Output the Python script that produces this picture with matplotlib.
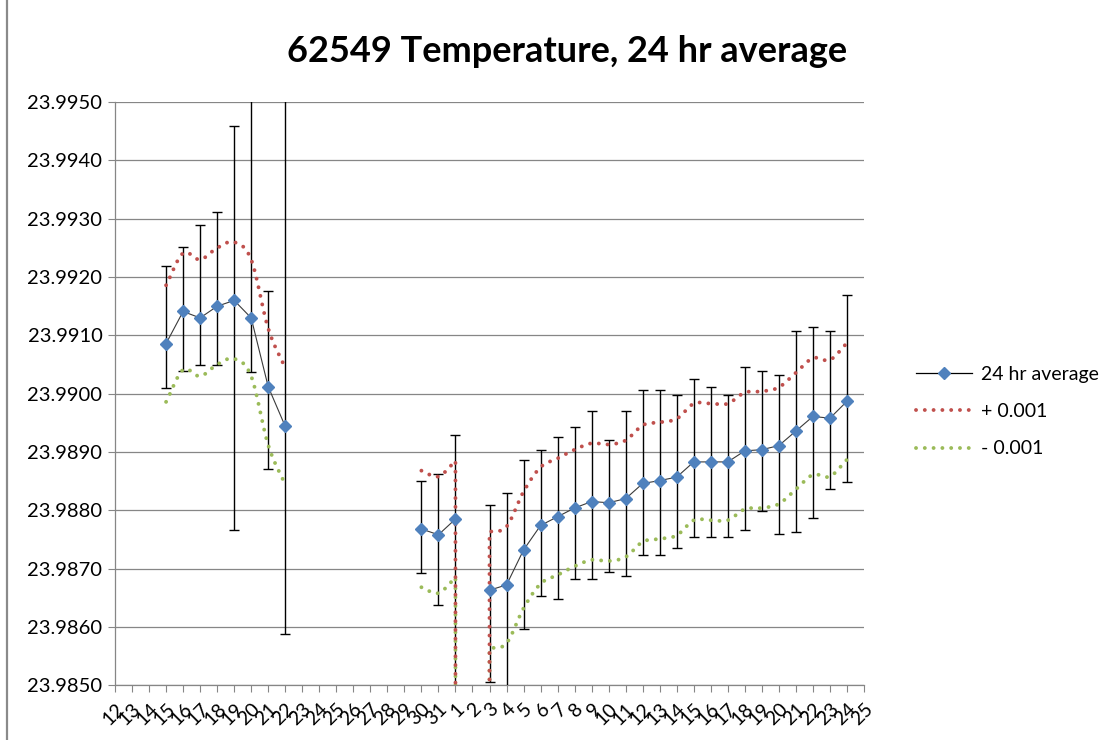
import numpy as np
import matplotlib
matplotlib.use("Agg")
import matplotlib.pyplot as plt
from matplotlib.lines import Line2D

nan = np.nan

# ---------------- data ----------------
days = ["12", "13", "14", "15", "16", "17", "18", "19", "20", "21", "22", "23",
        "24", "25", "26", "27", "28", "29", "30", "31", "1", "2", "3", "4", "5",
        "6", "7", "8", "9", "10", "11", "12", "13", "14", "15", "16", "17", "18",
        "19", "20", "21", "22", "23", "24", "25"]

avg_24hr = [nan, nan, nan, 23.99086, 23.99141, 23.99130, 23.99150, 23.99160,
            23.99130, 23.99012, 23.98944, nan, nan, nan, nan, nan, nan, nan,
            23.98768, 23.98758, 23.98785, nan, 23.98663, 23.98672, 23.98732,
            23.98774, 23.98789, 23.98804, 23.98815, 23.98813, 23.98820, 23.98846,
            23.98851, 23.98857, 23.98883, 23.98883, 23.98883, 23.98902, 23.98904,
            23.98911, 23.98936, 23.98961, 23.98958, 23.98987, nan]

plus_001 = [nan, nan, nan, 23.99186, 23.99241, 23.99230, 23.99250, 23.99260,
            23.99230, 23.99112, 23.99044, nan, nan, nan, nan, nan, nan, nan,
            23.98868, 23.98858, 23.98885, 0.001, 23.98763, 23.98772, 23.98832,
            23.98874, 23.98889, 23.98904, 23.98915, 23.98913, 23.98920, 23.98946,
            23.98951, 23.98957, 23.98983, 23.98983, 23.98983, 23.99002, 23.99004,
            23.99011, 23.99036, 23.99061, 23.99058, 23.99087, nan]

minus_001 = [nan, nan, nan, 23.98986, 23.99041, 23.99030, 23.99050, 23.99060,
             23.99030, 23.98912, 23.98844, nan, nan, nan, nan, nan, nan, nan,
             23.98668, 23.98658, 23.98685, -0.001, 23.98563, 23.98572, 23.98632,
             23.98674, 23.98689, 23.98704, 23.98715, 23.98713, 23.98720, 23.98746,
             23.98751, 23.98757, 23.98783, 23.98783, 23.98783, 23.98802, 23.98804,
             23.98811, 23.98836, 23.98861, 23.98858, 23.98887, nan]

bar_top = [nan, nan, nan, 23.99219, 23.99251, 23.99290, 23.99312, 23.99459,
           23.99620, 23.99177, 23.99620, nan, nan, nan, nan, nan, nan, nan,
           23.98850, 23.98862, 23.98930, nan, 23.98809, 23.98829, 23.98886,
           23.98903, 23.98925, 23.98943, 23.98970, 23.98921, 23.98970, 23.99006,
           23.99006, 23.98998, 23.99026, 23.99012, 23.98998, 23.99045, 23.99039,
           23.99032, 23.99107, 23.99115, 23.99107, 23.99169, nan]

bar_bottom = [nan, nan, nan, 23.99009, 23.99039, 23.99049, 23.99049, 23.98767,
              23.99038, 23.98871, 23.98587, nan, nan, nan, nan, nan, nan, nan,
              23.98692, 23.98638, 23.98400, nan, 23.98505, 23.98400, 23.98597,
              23.98653, 23.98648, 23.98683, 23.98682, 23.98695, 23.98687, 23.98723,
              23.98723, 23.98735, 23.98754, 23.98754, 23.98754, 23.98767, 23.98798,
              23.98759, 23.98763, 23.98786, 23.98836, 23.98849, nan]

y_ticks = [23.985, 23.986, 23.987, 23.988, 23.989, 23.990,
           23.991, 23.992, 23.993, 23.994, 23.995]

title = "62549 Temperature, 24 hr average"
labels = ["24 hr average", "+ 0.001", "- 0.001"]

# ---------------- style ----------------
BLUE = "#4F81BD"
RED = "#C0504D"
GREEN = "#9BBB59"
GRID = "#868686"
FONT = ["Lato", "DejaVu Sans"]
plt.rcParams["font.family"] = FONT

W, H, DPI = 1118, 740, 100
fig = plt.figure(figsize=(W / DPI, H / DPI), dpi=DPI)
L, R, T, B = 115, 864, 102.2, 685.2
ax = fig.add_axes([L / W, 1 - B / H, (R - L) / W, (B - T) / H])

x = np.arange(len(days))
avg = np.array(avg_24hr, float)
top = np.array(bar_top, float)
bot = np.array(bar_bottom, float)
ylo, yhi = y_ticks[0], y_ticks[-1]


def smooth_runs(xv, yv, lo, hi, steps=16):
    """Excel-like smoothed line (cardinal/Catmull-Rom) through the points."""
    xv = np.asarray(xv, float)
    yv = np.asarray(yv, float)
    n = len(yv)
    fin = np.isfinite(yv)
    inside = fin & (yv >= lo) & (yv <= hi)

    def slope(j):
        l = j - 1 if j - 1 >= 0 and inside[j - 1] else j
        r = j + 1 if j + 1 < n and inside[j + 1] else j
        return 0.0 if r == l else (yv[r] - yv[l]) / (xv[r] - xv[l])

    runs, cx, cy = [], [], []
    for i in range(n - 1):
        if not (fin[i] and fin[i + 1]):
            if cx:
                runs.append((cx, cy))
                cx, cy = [], []
            continue
        if not cx:
            cx, cy = [xv[i]], [yv[i]]
        if inside[i] and inside[i + 1]:
            h = xv[i + 1] - xv[i]
            m0, m1 = slope(i) * h, slope(i + 1) * h
            t = np.linspace(0, 1, steps + 1)[1:]
            h00 = 2 * t**3 - 3 * t**2 + 1
            h10 = t**3 - 2 * t**2 + t
            h01 = -2 * t**3 + 3 * t**2
            h11 = t**3 - t**2
            cx.extend(xv[i] + t * h)
            cy.extend(h00 * yv[i] + h10 * m0 + h01 * yv[i + 1] + h11 * m1)
        else:
            cx.append(xv[i + 1])
            cy.append(yv[i + 1])
    if cx:
        runs.append((cx, cy))
    return runs


dot_lw = 2.8
dot_style = dict(lw=dot_lw, linestyle=(0, (0.01, 2.25)), dash_capstyle="round",
                 solid_capstyle="round")

# error bars
ax.errorbar(x, avg, yerr=[avg - bot, top - avg], fmt="none", ecolor="black",
            elinewidth=1.0, capsize=3.6, capthick=1.0, zorder=3)

# smoothed +/- lines (green first, red on top)
for series, col in ((minus_001, GREEN), (plus_001, RED)):
    for rx, ry in smooth_runs(x, series, ylo, yhi):
        ax.plot(rx, ry, color=col, zorder=4, **dot_style)

# average line
ax.plot(x, avg, color="#3a3a3a", lw=0.8, marker="D", ms=6.5, mfc=BLUE,
        mec=BLUE, zorder=5)

ax.set_xlim(0, len(days) - 1)
ax.set_ylim(ylo, yhi)
ax.set_yticks(y_ticks)
ax.set_yticklabels([f"{v:.4f}" for v in y_ticks])
ax.set_xticks(x)
ax.set_xticklabels(days, rotation=45, ha="right", va="top",
                   rotation_mode="anchor")
ax.tick_params(axis="y", direction="out", length=5, width=0.8, color=GRID,
               labelsize=14.5, pad=4)
ax.tick_params(axis="x", direction="out", length=5, width=0.8, color=GRID,
               labelsize=14, pad=6)
ax.grid(axis="y", color=GRID, lw=0.9)
ax.set_axisbelow(True)
for s in ("top", "right"):
    ax.spines[s].set_visible(False)
for s in ("left", "bottom"):
    ax.spines[s].set_color(GRID)
    ax.spines[s].set_linewidth(0.9)

# title
fig.text(567 / W, 1 - 52 / H, title, ha="center", va="center",
         fontsize=26, fontweight="bold")

# legend
handles = [
    Line2D([], [], color="black", lw=0.9, marker="D", ms=6.5, mfc=BLUE, mec=BLUE),
    Line2D([], [], color=RED, **dot_style),
    Line2D([], [], color=GREEN, **dot_style),
]
fig.legend(handles, labels, loc="center left",
           bbox_to_anchor=(916 / W, 1 - 411.5 / H), frameon=False,
           fontsize=14, handlelength=2.9, handletextpad=0.45,
           labelspacing=1.05, borderpad=0, borderaxespad=0)

# chart area left border
fig.add_artist(Line2D([7 / W, 7 / W], [0, 1], transform=fig.transFigure,
                      color="#8a8a8a", lw=1.6))

fig.savefig("out.png", dpi=DPI)
